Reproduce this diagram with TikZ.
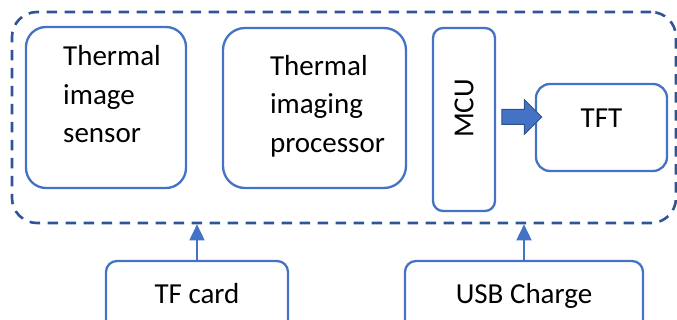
\documentclass[tikz,border=0pt]{standalone}
\usepackage{fontspec}
\setmainfont{Carlito}
\usepackage{xcolor}
\usetikzlibrary{arrows.meta,shapes.arrows}

\definecolor{boxblue}{HTML}{4472C4}
\definecolor{frameblue}{HTML}{2F5597}
\definecolor{arrowblue}{HTML}{2F528F}

\begin{document}
\begin{tikzpicture}[x=1pt, y=-1pt,
      every node/.style = {shape=rectangle, rounded corners=10pt,
        draw=boxblue, line width=2.3pt, inner sep=0pt,
        font=\fontsize{29}{38.5}\selectfont},
      board/.style = {draw=frameblue, line width=2.6pt, rounded corners=25pt,
        dash pattern=on 10.5pt off 7.5pt},
      feed/.style = {draw=boxblue, line width=1.6pt,
        -{Triangle[width=15pt, length=16pt]}},
      bigarrow/.style = {single arrow, sharp corners, draw=arrowblue,
        fill=boxblue, line width=1pt, minimum height=40pt,
        single arrow head extend=10pt, text height=7pt, text depth=7pt},
      port/.style = {rounded corners=11pt, text height=20pt, text depth=7pt,
        minimum height=71pt}]
    \useasboundingbox (0,0) rectangle (677,320);
    \node[board, minimum width=664pt, minimum height=211pt] (board) at (344,117.5) {};
    \node[minimum width=160pt, minimum height=161pt, rounded corners=20pt] (sensor) at (106,107.5)
      {\begin{tabular}{@{\hspace{12pt}}l@{}}Thermal\\image\\sensor\\[22pt]\end{tabular}};
    \node[minimum width=183pt, minimum height=160pt, rounded corners=22pt] (processor) at (314.5,108)
      {\begin{tabular}{@{\hspace{26pt}}l@{}}Thermal\\imaging\\processor\\[4pt]\end{tabular}};
    \node[rotate=90, minimum width=183pt, minimum height=62pt] (mcu) at (464,119.5) {\hspace*{22pt}MCU};
    \node[minimum width=131pt, minimum height=87pt, rounded corners=14pt, text depth=18pt] (tft) at (601.5,127.5) {TFT};
    \node[bigarrow] (mcu2tft) at (518,117) {};
    \node[port, minimum width=182pt] (tfcard) at (197,296.5) {TF card};
    \node[port, minimum width=238pt] (usb) at (524,296.5) {USB Charge};
    \draw[feed] (tfcard) -- (tfcard |- board.south);
    \draw[feed] (usb) -- (usb |- board.south);
\end{tikzpicture}
\end{document}
